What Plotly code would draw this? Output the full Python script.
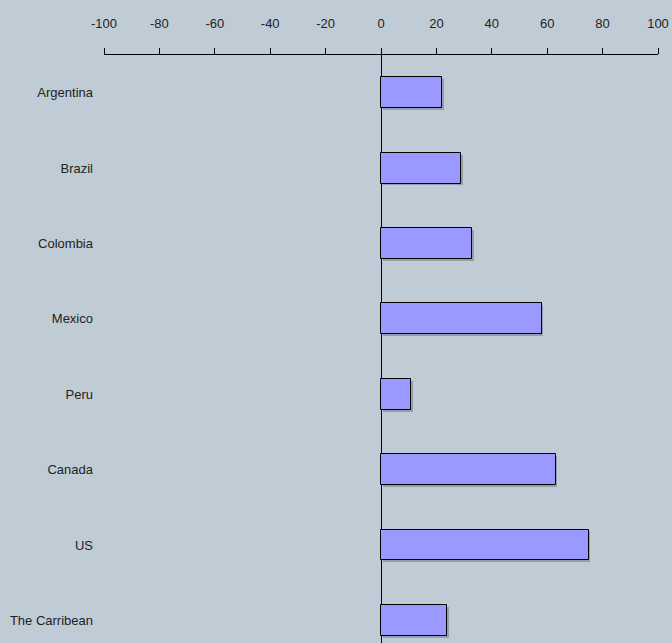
import plotly.graph_objects as go

categories = ["Argentina", "Brazil", "Colombia", "Mexico", "Peru", "Canada", "US", "The Carribean"]
values = [22, 29, 33, 58, 11, 63, 75, 24]
tick_vals = [-100, -80, -60, -40, -20, 0, 20, 40, 60, 80, 100]
tick_text = ["-100", "-80", "-60", "-40", "-20", "0", "20", "40", "60", "80", "100"]

FONT = "Liberation Sans Narrow, Arial Narrow, Liberation Sans, Arial, sans-serif"

fig = go.Figure()
# subtle drop shadow behind bars
fig.add_trace(go.Bar(
    x=values, y=categories, orientation="h",
    base=0.6, width=0.41, offset=-0.18,
    marker=dict(color="rgba(70,70,90,0.35)", line=dict(width=0)),
    hoverinfo="skip",
))
fig.add_trace(go.Bar(
    x=values, y=categories, orientation="h",
    width=0.41, offset=-0.205,
    marker=dict(color="#9999FF", line=dict(color="#000000", width=1)),
))

fig.update_layout(
    width=672, height=643,
    margin=dict(l=104, r=14, t=55, b=0),
    paper_bgcolor="#C0CCD5", plot_bgcolor="#C0CCD5",
    font=dict(family=FONT, size=13, color="#222222"),
    showlegend=False,
    barmode="overlay",
    bargap=0,
)
fig.update_xaxes(
    side="top", range=[-100, 100], tickvals=tick_vals, ticktext=tick_text,
    showgrid=False, showline=True, linecolor="#000000", linewidth=1,
    ticks="outside", ticklen=6, tickcolor="#000000",
    zeroline=True, zerolinecolor="#000000", zerolinewidth=1,
    ticklabelstandoff=15,
    tickfont=dict(family=FONT, size=13, color="#222222"),
)
fig.update_yaxes(
    type="category", categoryorder="array", categoryarray=categories,
    range=[7.3, -0.5], showgrid=False, showline=False, zeroline=False,
    ticks="", ticklabelstandoff=10,
    tickfont=dict(family=FONT, size=13, color="#222222"),
)
fig.write_html("out.html")
